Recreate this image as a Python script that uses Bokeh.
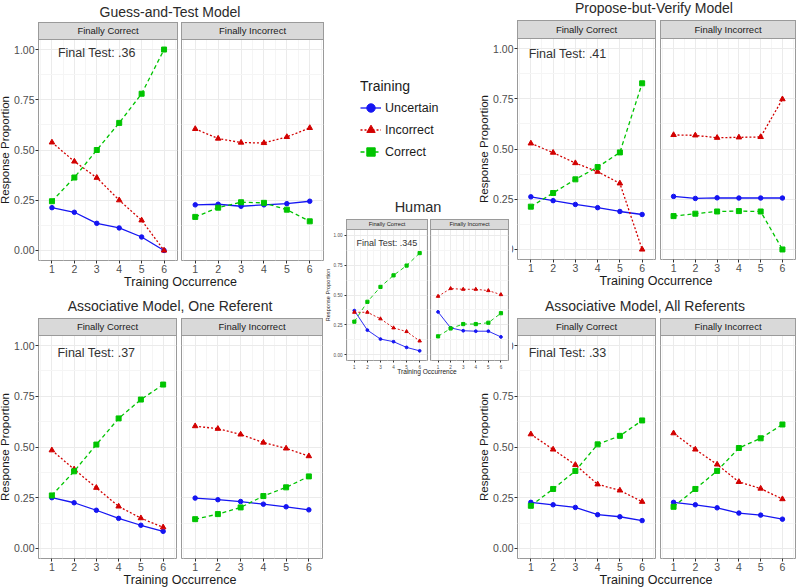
from bokeh.plotting import figure
from bokeh.models import Div, Legend, LegendItem, Label, Range1d, FixedTicker, Grid
from bokeh.layouts import column
from bokeh.embed import file_html
from bokeh.resources import INLINE

# ---------------- data ----------------
occurrence = [1, 2, 3, 4, 5, 6]
occ_labels = ["1", "2", "3", "4", "5", "6"]
y_ticks = [0.0, 0.25, 0.5, 0.75, 1.0]
y_tick_labels = ["0.00", "0.25", "0.50", "0.75", "1.00"]
facets = ["Finally Correct", "Finally Incorrect"]
series_names = ["Uncertain", "Incorrect", "Correct"]

# Guess-and-Test Model
gt_fc_uncertain = [0.213, 0.19, 0.135, 0.112, 0.067, 0.0]
gt_fc_incorrect = [0.538, 0.443, 0.362, 0.25, 0.15, 0.0]
gt_fc_correct = [0.245, 0.363, 0.5, 0.635, 0.78, 1.0]
gt_fi_uncertain = [0.227, 0.23, 0.22, 0.227, 0.233, 0.245]
gt_fi_incorrect = [0.605, 0.557, 0.537, 0.535, 0.565, 0.61]
gt_fi_correct = [0.167, 0.213, 0.24, 0.237, 0.203, 0.145]

# Propose-but-Verify Model
pv_fc_uncertain = [0.262, 0.243, 0.224, 0.208, 0.189, 0.174]
pv_fc_incorrect = [0.528, 0.482, 0.43, 0.387, 0.329, 0.0]
pv_fc_correct = [0.213, 0.281, 0.349, 0.41, 0.483, 0.827]
pv_fi_uncertain = [0.264, 0.254, 0.257, 0.256, 0.256, 0.256]
pv_fi_incorrect = [0.57, 0.568, 0.556, 0.558, 0.56, 0.748]
pv_fi_correct = [0.166, 0.178, 0.189, 0.191, 0.189, 0.0]

# Associative Model, One Referent
a1_fc_uncertain = [0.25, 0.225, 0.188, 0.148, 0.114, 0.084]
a1_fc_incorrect = [0.484, 0.39, 0.299, 0.207, 0.149, 0.104]
a1_fc_correct = [0.261, 0.38, 0.512, 0.641, 0.734, 0.808]
a1_fi_uncertain = [0.248, 0.24, 0.231, 0.218, 0.205, 0.19]
a1_fi_incorrect = [0.603, 0.59, 0.562, 0.522, 0.493, 0.455]
a1_fi_correct = [0.144, 0.169, 0.202, 0.258, 0.301, 0.355]

# Associative Model, All Referents
aa_fc_uncertain = [0.227, 0.215, 0.202, 0.166, 0.156, 0.137]
aa_fc_incorrect = [0.563, 0.488, 0.412, 0.316, 0.286, 0.23]
aa_fc_correct = [0.21, 0.293, 0.382, 0.513, 0.555, 0.631]
aa_fi_uncertain = [0.227, 0.215, 0.2, 0.174, 0.164, 0.144]
aa_fi_incorrect = [0.568, 0.488, 0.414, 0.328, 0.295, 0.243]
aa_fi_correct = [0.205, 0.293, 0.382, 0.495, 0.543, 0.611]

# Human
hu_fc_uncertain = [0.369, 0.205, 0.13, 0.108, 0.06, 0.031]
hu_fc_incorrect = [0.355, 0.355, 0.3, 0.224, 0.193, 0.114]
hu_fc_correct = [0.276, 0.443, 0.568, 0.665, 0.747, 0.852]
hu_fi_uncertain = [0.358, 0.224, 0.2, 0.196, 0.196, 0.148]
hu_fi_incorrect = [0.489, 0.554, 0.548, 0.548, 0.537, 0.503]
hu_fi_correct = [0.153, 0.219, 0.256, 0.256, 0.267, 0.347]

model_titles = ["Guess-and-Test Model", "Propose-but-Verify Model",
                "Associative Model, One Referent", "Associative Model, All Referents", "Human"]
final_tests = [".36", ".41", ".37", ".33", ".345"]
model_data = [
    [[gt_fc_uncertain, gt_fc_incorrect, gt_fc_correct], [gt_fi_uncertain, gt_fi_incorrect, gt_fi_correct]],
    [[pv_fc_uncertain, pv_fc_incorrect, pv_fc_correct], [pv_fi_uncertain, pv_fi_incorrect, pv_fi_correct]],
    [[a1_fc_uncertain, a1_fc_incorrect, a1_fc_correct], [a1_fi_uncertain, a1_fi_incorrect, a1_fi_correct]],
    [[aa_fc_uncertain, aa_fc_incorrect, aa_fc_correct], [aa_fi_uncertain, aa_fi_incorrect, aa_fi_correct]],
    [[hu_fc_uncertain, hu_fc_incorrect, hu_fc_correct], [hu_fi_uncertain, hu_fi_incorrect, hu_fi_correct]],
]

# ---------------- styles & layout ----------------
FONT = "Liberation Sans"
COLORS = {"Uncertain": "#1515F2", "Incorrect": "#D20000", "Correct": "#00C400"}
DASHES = {"Uncertain": "solid", "Incorrect": "2 2", "Correct": "4 3"}
MARKERS = {"Uncertain": "circle", "Incorrect": "triangle", "Correct": "square"}
BORDER = "#9A9A9A"
X_MINOR = [0.5, 1.5, 2.5, 3.5, 4.5, 5.5, 6.5]
Y_MINOR = [0.125, 0.375, 0.625, 0.875]
LB = 50  # left border of every facet canvas (space for the y axis)


def pos(left, top, extra=None):
    st = {"position": "absolute", "left": f"{left}px", "top": f"{top}px"}
    if extra:
        st.update(extra)
    return st


def text_div(text, left, top, w, h, size, extra=None):
    st = {"font-family": FONT, "font-size": f"{size}px", "text-align": "center",
          "line-height": f"{h}px", "white-space": "nowrap", "color": "#1a1a1a",
          "overflow": "visible"}
    if extra:
        st.update(extra)
    return Div(text=text, width=w, height=h, margin=0, styles=pos(left, top, st))


geoms = [
    dict(title_cx=170, title_y=12, strip=22, top=39, bottom=260, lf=(38, 177), rf=(181, 323), xt=282, lab=(3.0, 0.985), small=False),
    dict(title_cx=654, title_y=8, strip=20, top=38, bottom=259, lf=(517, 655), rf=(660, 795), xt=281, lab=(2.65, 0.975), small=False),
    dict(title_cx=170, title_y=306, strip=318, top=335, bottom=558, lf=(38, 176), rf=(181, 322), xt=580, lab=(3.0, 0.965), small=False),
    dict(title_cx=645, title_y=306, strip=318, top=335, bottom=558, lf=(517, 655), rf=(660, 795), xt=580, lab=(2.65, 0.965), small=False),
    dict(title_cx=418, title_y=207, strip=219, top=229, bottom=360, lf=(346, 427), rf=(430, 508), xt=371, lab=(3.5, 0.94), small=True),
]

REG = dict(title=14, strip=9.5, tick=10.5, ytitle=11.5, xtitle=12.5, final=12.5, lw=1.3,
           msize={"Uncertain": 4.5, "Incorrect": 5.5, "Correct": 5}, tick_out=3, BB=20, xh=14)
SMALL = dict(title=14.5, strip=5.7, tick=4.6, ytitle=5.6, xtitle=6.6, final=9, lw=0.9,
             msize={"Uncertain": 2.8, "Incorrect": 3.5, "Correct": 3.2}, tick_out=2, BB=12, xh=9)


def style_axis(ax, cfg):
    ax.axis_line_color = None
    ax.major_tick_line_color = "#333333"
    ax.major_tick_in = 0
    ax.major_tick_out = cfg["tick_out"]
    ax.minor_tick_line_color = None
    ax.major_label_text_font = FONT
    ax.major_label_text_font_size = f"{cfg['tick']}px"
    ax.major_label_text_color = "#4D4D4D"
    ax.major_label_standoff = 0


def facet(x0, x1, top, bottom, data, yaxis, cfg, annot=None):
    BB = cfg["BB"]
    p = figure(width=LB + (x1 - x0) + 1, height=1 + (bottom - top) + BB,
               x_range=Range1d(0.4, 6.6), y_range=Range1d(-0.05, 1.05),
               min_border_left=LB, min_border_right=1, min_border_top=1, min_border_bottom=BB,
               y_axis_location="left" if yaxis else None,
               output_backend="svg", toolbar_location=None)
    p.styles = pos(x0 - LB, top - 1)
    p.background_fill_color = "white"
    p.border_fill_alpha = 0
    p.outline_line_color = BORDER
    p.outline_line_width = 1

    p.xaxis.ticker = FixedTicker(ticks=occurrence, minor_ticks=X_MINOR)
    p.xaxis.major_label_overrides = {o: l for o, l in zip(occurrence, occ_labels)}
    style_axis(p.xaxis[0], cfg)
    yt = FixedTicker(ticks=y_ticks, minor_ticks=Y_MINOR)
    if yaxis:
        p.yaxis.ticker = yt
        p.yaxis.major_label_overrides = {t: l for t, l in zip(y_ticks, y_tick_labels)}
        style_axis(p.yaxis[0], cfg)
        p.yaxis.axis_label = "Response Proportion"
        p.yaxis.axis_label_text_font = FONT
        p.yaxis.axis_label_text_font_size = f"{cfg['ytitle']}px"
        p.yaxis.axis_label_text_font_style = "normal"
        p.yaxis.axis_label_text_color = "#1a1a1a"
        p.yaxis.axis_label_standoff = 0
    else:
        if len(p.ygrid) == 0:
            p.add_layout(Grid(dimension=1, ticker=yt))
        else:
            for g in p.ygrid:
                g.ticker = yt
    p.xgrid.grid_line_color = "#EBEBEB"
    p.ygrid.grid_line_color = "#EBEBEB"
    p.xgrid.minor_grid_line_color = "#F5F5F5"
    p.ygrid.minor_grid_line_color = "#F5F5F5"

    for name, vals in zip(series_names, data):
        p.line(occurrence, vals, line_color=COLORS[name], line_width=cfg["lw"], line_dash=DASHES[name])
        p.scatter(occurrence, vals, marker=MARKERS[name], size=cfg["msize"][name],
                  fill_color=COLORS[name], line_color=COLORS[name])
    if annot is not None:
        txt, ax_, ay_ = annot
        p.add_layout(Label(x=ax_, y=ay_, text=txt, text_align="center", text_baseline="middle",
                           text_font=FONT, text_font_size=f"{cfg['final']}px", text_color="#333333"))
    return p


def build_panel(i):
    g = geoms[i]
    cfg = SMALL if g["small"] else REG
    items = []
    lf, rf = g["lf"], g["rf"]
    left_x, right_x = lf[0], rf[1]
    for k, (x0, x1) in enumerate([lf, rf]):
        annot = ("Final Test: " + final_tests[i], g["lab"][0], g["lab"][1]) if k == 0 else None
        items.append(facet(x0, x1, g["top"], g["bottom"], model_data[i][k], k == 0, cfg, annot))
    for k, (x0, x1) in enumerate([lf, rf]):
        sh = g["top"] - g["strip"] + 1
        items.append(text_div(facets[k], x0, g["strip"], x1 - x0 + 1, sh, cfg["strip"],
                              {"background-color": "#D9D9D9", "border": f"1px solid {BORDER}",
                               "box-sizing": "border-box", "line-height": f"{sh - 2}px"}))
    th, tw = 20, 260
    items.append(text_div(model_titles[i], g["title_cx"] - tw // 2, g["title_y"] - th // 2, tw, th,
                          cfg["title"], {"color": "#2a2a2a"}))
    xh = cfg["xh"]
    items.append(text_div("Training Occurrence", left_x, g["xt"] - xh // 2, right_x - left_x, xh,
                          cfg["xtitle"]))
    return items


children = []
for i in range(4):
    children.extend(build_panel(i))

# legend
leg = figure(width=LB + 125, height=92, x_range=Range1d(0, 7), y_range=Range1d(0, 1),
             min_border=0, min_border_left=LB, x_axis_location=None, y_axis_location=None,
             output_backend="svg", toolbar_location=None)
leg.styles = pos(360 - LB, 78)
leg.grid.visible = False
leg.outline_line_color = None
leg.background_fill_alpha = 0
leg.border_fill_alpha = 0
leg_items = []
for name, vals in zip(series_names, model_data[4][0]):
    r1 = leg.line(occurrence, vals, line_color=COLORS[name], line_width=1.3, line_dash=DASHES[name], visible=False)
    r2 = leg.scatter(occurrence, vals, marker=MARKERS[name], size=REG["msize"][name],
                     fill_color=COLORS[name], line_color=COLORS[name], visible=False)
    leg_items.append(LegendItem(label=name, renderers=[r1, r2]))
legend = Legend(items=leg_items, location="top_left", title="Training",
                title_text_font=FONT, title_text_font_size="14px", title_text_font_style="normal",
                title_text_color="#1a1a1a", title_standoff=3,
                label_text_font=FONT, label_text_font_size="12.5px", label_text_color="#1a1a1a",
                glyph_width=21, glyph_height=21, label_height=21, label_standoff=4,
                spacing=1, padding=2, margin=0, border_line_color=None, background_fill_alpha=0)
leg.add_layout(legend, "center")
children.append(leg)

# Human inset: white box, then its panel
children.append(Div(text="", width=512 - 324, height=382 - 206, margin=0,
                    styles=pos(324, 206, {"background-color": "white"})))
children.extend(build_panel(4))

root = column(children, width=784, height=571, sizing_mode="fixed")

open("out.html", "w").write(file_html(root, INLINE))
